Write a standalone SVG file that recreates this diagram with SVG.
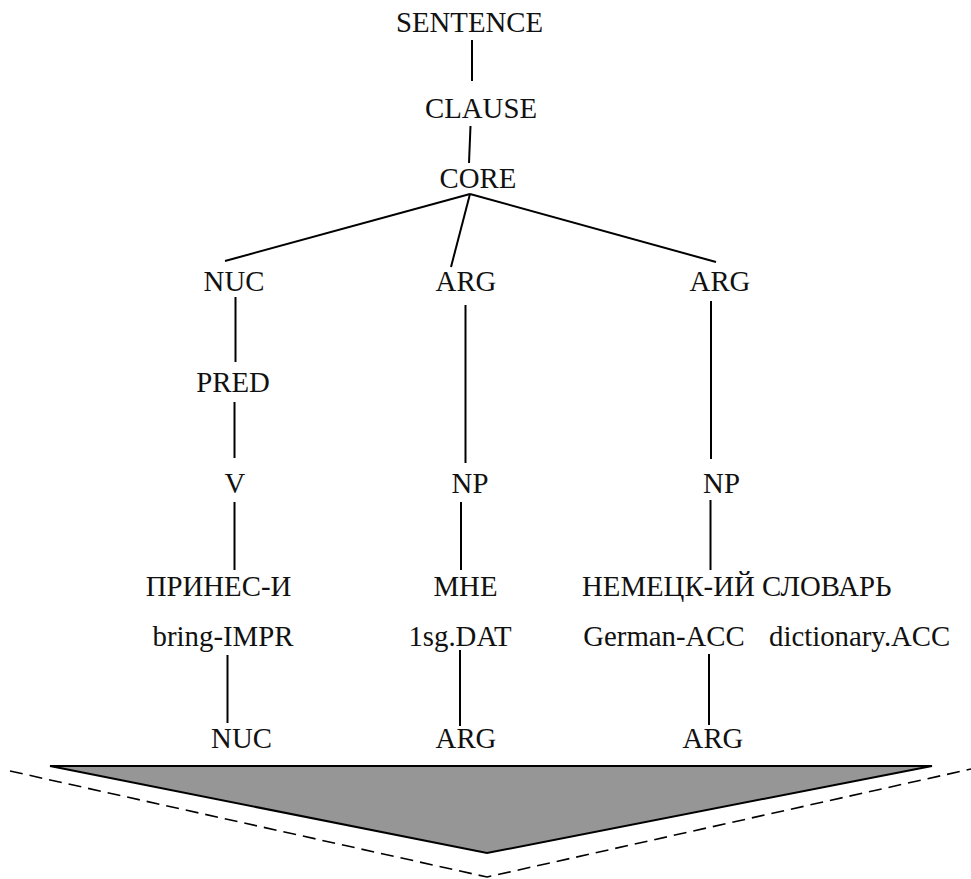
<svg xmlns="http://www.w3.org/2000/svg" width="971" height="879" viewBox="0 0 971 879">
  <style>
    text { font-family: "Liberation Serif", "Times New Roman", serif; font-size: 28.8px; fill: #111; }
    .c { text-anchor: middle; }
    .edge { stroke: #000; stroke-width: 2; fill: none; }
    .proj { fill: #969696; stroke: #000; stroke-width: 2; stroke-linejoin: miter; }
    .outline { stroke: #000; stroke-width: 1.6; stroke-dasharray: 13 7; fill: none; }
  </style>

  <!-- tree branches -->
  <g id="connectors">
    <line class="edge" x1="472" y1="40" x2="472" y2="81"/>
    <line class="edge" x1="470.5" y1="126" x2="469" y2="163"/>
    <line class="edge" x1="470" y1="194" x2="225" y2="261"/>
    <line class="edge" x1="470" y1="194" x2="451" y2="267"/>
    <line class="edge" x1="470" y1="194" x2="716" y2="262"/>
    <line class="edge" x1="235.5" y1="297" x2="235.5" y2="362"/>
    <line class="edge" x1="234.5" y1="402" x2="234.5" y2="458"/>
    <line class="edge" x1="234.5" y1="502" x2="234.5" y2="570"/>
    <line class="edge" x1="465.5" y1="305" x2="465.5" y2="463"/>
    <line class="edge" x1="461" y1="502" x2="461" y2="570"/>
    <line class="edge" x1="711" y1="301" x2="711" y2="459"/>
    <line class="edge" x1="710.5" y1="500" x2="710.5" y2="570"/>
    <line class="edge" x1="227.5" y1="655" x2="227.5" y2="723"/>
    <line class="edge" x1="460" y1="650" x2="460" y2="726"/>
    <line class="edge" x1="709" y1="654" x2="709" y2="725"/>
  </g>

  <!-- projection wedge below the semantic roles -->
  <g id="projection">
    <polyline class="outline" points="10,771 487,877 971,769"/>
    <polygon class="proj" points="50,766 932,766 487,853"/>
  </g>

  <g id="sentence"><text class="c" x="469.5" y="32">SENTENCE</text></g>
  <g id="clause"><text class="c" x="481" y="118">CLAUSE</text></g>
  <g id="core"><text class="c" x="478" y="188">CORE</text></g>

  <g id="nuc"><text class="c" x="234" y="291">NUC</text></g>
  <g id="arg1"><text class="c" x="466" y="291">ARG</text></g>
  <g id="arg2"><text class="c" x="720" y="291">ARG</text></g>

  <g id="pred"><text class="c" x="233" y="392">PRED</text></g>

  <g id="v"><text class="c" x="235" y="493">V</text></g>
  <g id="np1"><text class="c" x="470" y="493">NP</text></g>
  <g id="np2"><text class="c" x="721.5" y="493">NP</text></g>

  <g id="word-verb"><text class="c" x="218.5" y="596">ПРИНЕС-И</text></g>
  <g id="word-pron"><text class="c" x="465.5" y="596">МНЕ</text></g>
  <g id="word-np"><text x="582" y="596">НЕМЕЦК-ИЙ СЛОВАРЬ</text></g>

  <g id="gloss-verb"><text class="c" x="223" y="646">bring-IMPR</text></g>
  <g id="gloss-pron"><text class="c" x="460" y="646">1sg.DAT</text></g>
  <g id="gloss-adj"><text class="c" x="664" y="646">German-ACC</text></g>
  <g id="gloss-noun"><text x="769" y="646">dictionary.ACC</text></g>

  <g id="role-nuc"><text class="c" x="241.5" y="748">NUC</text></g>
  <g id="role-arg1"><text class="c" x="466" y="748">ARG</text></g>
  <g id="role-arg2"><text class="c" x="713" y="748">ARG</text></g>
</svg>
